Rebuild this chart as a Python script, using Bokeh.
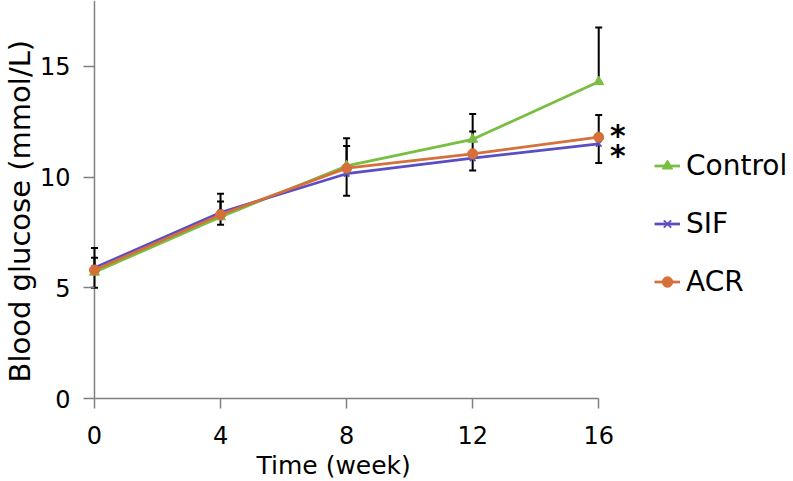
import numpy as np
from bokeh.plotting import figure
from bokeh.models import Range1d, Legend, LegendItem, FixedTicker, Span, Title
from bokeh.core.properties import value
from bokeh.embed import file_html
from bokeh.resources import INLINE

# ---- data ----
weeks = [0, 4, 8, 12, 16]
control = [5.7, 8.2, 10.5, 11.7, 14.3]
sif = [5.9, 8.4, 10.15, 10.85, 11.5]
acr = [5.8, 8.3, 10.4, 11.05, 11.8]

control_err = [0.7, 0.35, 1.25, 1.15, 2.45]
sif_err = [0.9, 0.85, 1.0, 0.55, 0.87]
acr_err = [0.55, 0.6, 1.0, 1.0, 1.0]
# direction of the one-sided error bars (+1 up, -1 down)
control_dir = [-1, -1, 1, 1, 1]
sif_dir = [1, 1, -1, -1, -1]
acr_dir = [1, 1, 1, 1, 1]

series_names = ["Control", "SIF", "ACR"]
x_ticks = [0, 4, 8, 12, 16]
y_ticks = [0, 5, 10, 15]
sig_labels = ["*", "*"]
x_title = "Time (week)"
y_title = "Blood glucose (mmol/L)"

FONT = "DejaVu Sans"
AXIS_GRAY = "#808080"
colors = ["#78BE41", "#5B4DC3", "#D6703A"]
markers = ["triangle", "x", "circle"]
msizes = [10, 8, 10]

p = figure(width=793, height=481, output_backend="svg", toolbar_location=None,
           x_range=Range1d(-0.3485, 22.18), y_range=Range1d(0, 17.97),
           min_border_left=82, min_border_right=0, min_border_top=0,
           min_border_bottom=82)
p.grid.visible = False
p.outline_line_color = None
p.background_fill_color = "white"
p.border_fill_color = "white"

# x axis
xa = p.xaxis[0]
xa.ticker = FixedTicker(ticks=x_ticks)
xa.bounds = (0, 16)
xa.axis_line_color = AXIS_GRAY
xa.axis_line_width = 1.5
xa.major_tick_line_color = AXIS_GRAY
xa.major_tick_line_width = 1.5
xa.minor_tick_line_color = None
xa.major_tick_out = 10
xa.major_tick_in = 0
xa.major_label_text_font = FONT
xa.major_label_text_font_size = "24px"
xa.major_label_text_color = "black"
xa.major_label_standoff = 17

# y axis: labels at frame edge, ticks pointing to the zero line
ya = p.yaxis[0]
ya.ticker = FixedTicker(ticks=y_ticks)
ya.axis_line_color = None
ya.major_tick_line_color = AXIS_GRAY
ya.major_tick_line_width = 1.5
ya.minor_tick_line_color = None
ya.major_tick_out = 0
ya.major_tick_in = 11
ya.major_label_text_font = FONT
ya.major_label_text_font_size = "24px"
ya.major_label_text_color = "black"
ya.major_label_standoff = 13

# the vertical axis line sits at x = 0
p.add_layout(Span(location=0, dimension="height", line_color=AXIS_GRAY,
                  line_width=1.5, level="underlay"))

p.add_layout(Title(text=y_title, align="left", offset=16, standoff=0,
                   text_font=FONT, text_font_size="29px", text_font_style="normal",
                   text_color="black"), "left")
p.add_layout(Title(text=x_title, align="left", offset=173, standoff=4,
                   text_font=FONT, text_font_size="25px", text_font_style="normal",
                   text_color="black"), "below")

# error bars (drawn below the lines)
for vals, errs, dirs in ((control, control_err, control_dir),
                         (sif, sif_err, sif_dir),
                         (acr, acr_err, acr_dir)):
    ends = [v + d * e for v, e, d in zip(vals, errs, dirs)]
    p.segment(x0=weeks, y0=vals, x1=weeks, y1=ends, line_color="black", line_width=2)
    p.scatter(weeks, ends, marker="dash", size=7, line_color="black", line_width=2)

items = []
for name, vals, c, m, s in zip(series_names, (control, sif, acr), colors, markers, msizes):
    lr = p.line(weeks, vals, line_color=c, line_width=2.75)
    if m == "x":
        mr = p.scatter(weeks, vals, marker=m, size=s, line_color=c, line_width=1.75)
    else:
        mr = p.scatter(weeks, vals, marker=m, size=s, fill_color=c, line_color=c)
    items.append(LegendItem(label=name, renderers=[lr, mr]))

legend = Legend(items=items, location=(571, 100.5), padding=0, margin=0,
                spacing=25, label_standoff=6, glyph_width=26, glyph_height=33,
                label_height=33, label_text_font=FONT, label_text_font_size="28px",
                label_text_color="black", border_line_color=None,
                background_fill_alpha=0)
p.add_layout(legend)

# significance marks next to the week-16 points
p.text(x=[weeks[-1], weeks[-1]], y=[acr[-1], sif[-1]], text=sig_labels,
       x_offset=19, y_offset=[-2, 12], text_font=value(FONT), text_font_style="bold",
       text_font_size="30px", text_align="center", text_baseline="alphabetic",
       text_color="black")

open("out.html", "w").write(file_html(p, INLINE))
